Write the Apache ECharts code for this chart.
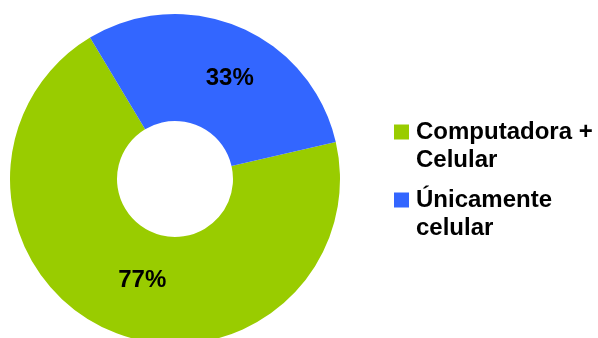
<!DOCTYPE html>
<html>
<head>
<meta charset="utf-8">
<script src="https://cdn.jsdelivr.net/npm/echarts@6/dist/echarts.min.js"></script>
<style>
  html, body { margin: 0; padding: 0; background: #ffffff; }
  #chart { width: 598px; height: 338px; }
</style>
</head>
<body>
<div id="chart"></div>
<script>
// Device used to access the internet
const categories = ['Computadora +\nCelular', 'Únicamente\ncelular'];
const shares = [77, 33];
const colors = ['#99CC00', '#3366FF'];
// Nudges for the percentage labels inside each ring segment
const labelOffsets = [[12, -4], [10, 5]];

const FONT = '"Liberation Sans", Arial, Helvetica, sans-serif';

const chart = echarts.init(document.getElementById('chart'), null, { renderer: 'canvas' });

chart.setOption({
  backgroundColor: '#ffffff',
  animation: false,
  color: colors,
  legend: {
    orient: 'vertical',
    left: 394,
    top: 90,
    padding: 0,
    itemWidth: 15,
    itemHeight: 15,
    itemGap: -16,
    icon: 'rect',
    selectedMode: false,
    // a blank leading line keeps the swatch level with the first line of text
    formatter: name => '\n' + name,
    textStyle: {
      fontFamily: FONT,
      fontSize: 24,
      fontWeight: 'bold',
      color: '#000000',
      lineHeight: 28,
      padding: [0, 0, 0, 2]
    },
    data: categories
  },
  series: [{
    type: 'pie',
    center: [175, 179],
    radius: [58, 165],
    startAngle: 13,
    clockwise: true,
    avoidLabelOverlap: false,
    label: {
      show: true,
      position: 'inside',
      formatter: p => p.value + '%',
      fontFamily: FONT,
      fontSize: 24,
      fontWeight: 'bold',
      color: '#000000'
    },
    labelLine: { show: false },
    emphasis: { disabled: true },
    itemStyle: { borderWidth: 0 },
    data: categories.map((name, i) => ({
      name: name,
      value: shares[i],
      label: { offset: labelOffsets[i] }
    }))
  }]
});
</script>
</body>
</html>
